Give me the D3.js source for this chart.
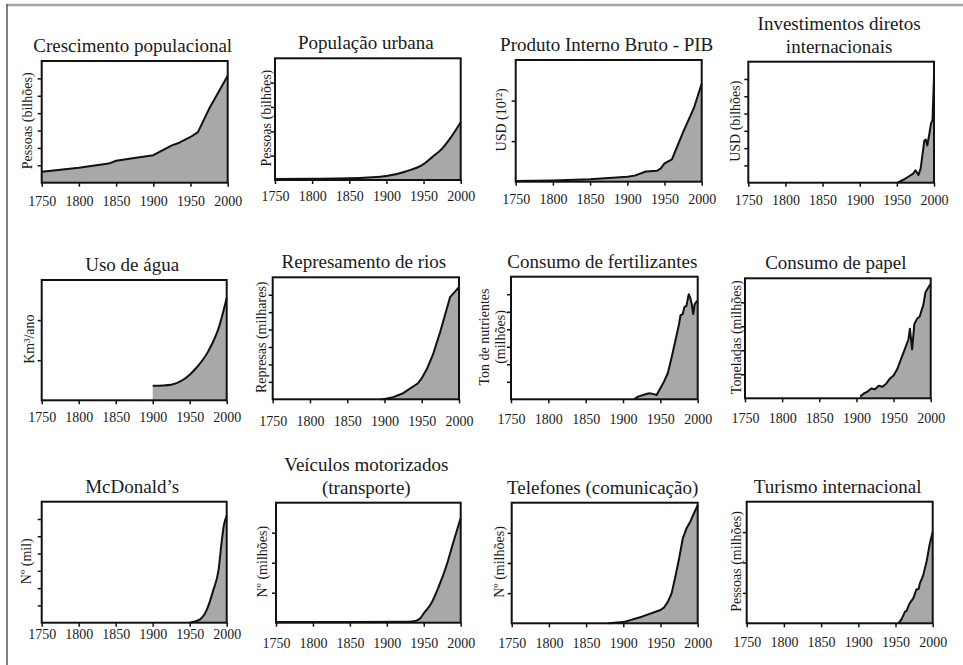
<!DOCTYPE html>
<html>
<head>
<meta charset="utf-8">
<script src="https://cdn.jsdelivr.net/npm/d3@7"></script>
<style>
  body { margin: 0; background: #fff; }
  svg text { font-family: "Liberation Serif", "Times New Roman", serif; fill: #1a1a1a; }
</style>
</head>
<body>
<div id="chart"></div>
<script>
var svgWidth = 963;
var svgHeight = 665;

// shared x axis
var xTicks = [1750, 1800, 1850, 1900, 1950, 2000];

// series (years / values in axis units)
var popYears = [1750, 1800, 1840, 1850, 1870, 1900, 1925, 1935, 1950, 1960, 1975, 2000];
var popValues = [0.63, 0.86, 1.1, 1.26, 1.39, 1.58, 2.15, 2.3, 2.63, 2.91, 4.25, 6.15];

var urbanYears = [1750, 1800, 1850, 1875, 1900, 1925, 1950, 1962, 1975, 1987, 2000];
var urbanValues = [0.04, 0.05, 0.07, 0.1, 0.16, 0.34, 0.65, 0.95, 1.29, 1.76, 2.37];

var gdpYears = [1750, 1800, 1850, 1900, 1910, 1925, 1940, 1945, 1950, 1960, 1975, 1990, 2000];
var gdpValues = [0.02, 0.03, 0.06, 0.12, 0.15, 0.25, 0.27, 0.33, 0.45, 0.55, 1.22, 1.84, 2.42];

var fdiYears = [1951, 1960, 1972, 1975, 1979, 1982, 1987, 1989, 1991, 1994, 1996, 1998, 2000];
var fdiValues = [0, 0.2, 0.53, 0.72, 0.44, 0.82, 2.44, 2.5, 2.15, 2.9, 3.43, 3.62, 6.15];

var waterYears = [1900, 1925, 1940, 1950, 1960, 1975, 1990, 2000];
var waterValues = [0.36, 0.39, 0.5, 0.64, 0.83, 1.22, 1.85, 2.55];

var damYears = [1895, 1900, 1910, 1925, 1945, 1950, 1957, 1965, 1975, 1988, 2000];
var damValues = [0, 0.02, 0.1, 0.35, 0.92, 1.21, 1.75, 2.56, 3.9, 5.86, 6.44];

var fertYears = [1915, 1920, 1930, 1935, 1940, 1945, 1950, 1955, 1960, 1965, 1970, 1975, 1977, 1980, 1982, 1985, 1988, 1990, 1992, 1994, 1996, 1998, 2000];
var fertValues = [0, 0.15, 0.29, 0.35, 0.31, 0.25, 0.63, 1.02, 1.5, 2.37, 3.33, 4.3, 4.8, 4.87, 5.25, 5.35, 6.0, 5.8, 5.44, 4.87, 5.44, 5.55, 5.63];

var paperYears = [1905, 1910, 1915, 1920, 1925, 1930, 1935, 1940, 1945, 1950, 1955, 1960, 1965, 1970, 1972, 1975, 1978, 1982, 1985, 1990, 1993, 1997, 2000];
var paperValues = [0.07, 0.2, 0.28, 0.41, 0.38, 0.52, 0.48, 0.61, 0.82, 0.95, 1.22, 1.63, 2.04, 2.45, 2.9, 2.04, 3.1, 3.33, 3.4, 3.88, 4.42, 4.63, 4.76];

var mcdYears = [1950, 1955, 1964, 1973, 1982, 1989, 1993, 1996, 2000];
var mcdValues = [0, 0.05, 0.19, 0.74, 1.9, 3.06, 4.6, 5.6, 6.2];

var vehYears = [1750, 1850, 1930, 1940, 1945, 1950, 1960, 1970, 1980, 1990, 2000];
var vehValues = [0.02, 0.02, 0.03, 0.07, 0.14, 0.31, 0.64, 1.19, 1.85, 2.68, 3.49];

var telYears = [1880, 1900, 1925, 1950, 1955, 1960, 1965, 1970, 1975, 1980, 1985, 1990, 1995, 2000];
var telValues = [0, 0.04, 0.22, 0.44, 0.53, 0.72, 1.0, 1.55, 2.15, 2.82, 3.15, 3.37, 3.65, 3.92];

var tourYears = [1954, 1958, 1963, 1965, 1968, 1970, 1974, 1976, 1978, 1981, 1983, 1987, 1992, 1996, 2000];
var tourValues = [0, 0.13, 0.39, 0.41, 0.61, 0.69, 0.83, 0.97, 1.11, 1.13, 1.33, 1.56, 2.06, 2.61, 3.0];

var titles = [
  ["Crescimento populacional"], ["População urbana"], ["Produto Interno Bruto - PIB"], ["Investimentos diretos", "internacionais"],
  ["Uso de água"], ["Represamento de rios"], ["Consumo de fertilizantes"], ["Consumo de papel"],
  ["McDonald’s"], ["Veículos motorizados", "(transporte)"], ["Telefones (comunicação)"], ["Turismo internacional"]
];
var yLabels = [
  ["Pessoas (bilhões)"], ["Pessoas (bilhões)"], ["USD (10¹²)"], ["USD (bilhões)"],
  ["Km³/ano"], ["Represas (milhares)"], ["Ton de nutrientes", "(milhões)"], ["Toneladas (milhões)"],
  ["Nº (mil)"], ["Nº (milhões)"], ["Nº (milhões)"], ["Pessoas (milhões)"]
];
var yMaxes = [7, 5, 3, 7, 3, 7, 7, 5, 7, 4, 4, 4];

var series = [
  [popYears, popValues], [urbanYears, urbanValues], [gdpYears, gdpValues], [fdiYears, fdiValues],
  [waterYears, waterValues], [damYears, damValues], [fertYears, fertValues], [paperYears, paperValues],
  [mcdYears, mcdValues], [vehYears, vehValues], [telYears, telValues], [tourYears, tourValues]
];

// layout of each panel: plot box [x0, x1, y0, y1], y label offset, x tick padding, smooth or not
var layout = [
  { box: [41.7, 227.7, 61, 182.7], labelDx: -10, pad: 9.5, smooth: false },
  { box: [275, 460.7, 58.3, 180], labelDx: -4, pad: 7.5, smooth: true },
  { box: [515.7, 701.7, 60, 181.7], labelDx: -10, pad: 8, smooth: false },
  { box: [748.3, 934, 61.7, 182.7], labelDx: -8, pad: 8, smooth: false },
  { box: [41.7, 226.7, 280, 400.3], labelDx: -8, pad: 8, smooth: true },
  { box: [272.7, 459, 277.3, 399.3], labelDx: -7, pad: 13, smooth: false },
  { box: [511, 697.7, 276.7, 399.3], labelDx: -6, pad: 11, smooth: false },
  { box: [745, 930.7, 278.3, 398.3], labelDx: -4, pad: 10.5, smooth: false },
  { box: [41.7, 226.7, 501.7, 622.7], labelDx: -11, pad: 2.5, smooth: true },
  { box: [276, 460.7, 502.7, 622.7], labelDx: -9, pad: 11, smooth: true },
  { box: [511.7, 697.7, 502.7, 623.3], labelDx: -8, pad: 10.5, smooth: false },
  { box: [746.7, 932.7, 501.7, 623.3], labelDx: -6, pad: 9.5, smooth: false }
];

var svg = d3.select("#chart")
  .append("svg")
  .attr("width", svgWidth)
  .attr("height", svgHeight);

// page frame
svg.append("line")
  .attr("x1", 7).attr("x2", svgWidth).attr("y1", 5).attr("y2", 5)
  .attr("stroke", "#a5a5a5").attr("stroke-width", 2.5);
svg.append("line")
  .attr("x1", 7).attr("x2", 7).attr("y1", 4).attr("y2", svgHeight)
  .attr("stroke", "#555").attr("stroke-width", 1.5);

series.forEach(function(s, i) {
  var L = layout[i];
  var x0 = L.box[0], x1 = L.box[1], y0 = L.box[2], y1 = L.box[3];
  var data = s[0].map(function(yr, j) { return { year: yr, value: s[1][j] }; });

  var xScale = d3.scaleLinear().domain([1750, 2000]).range([x0, x1]);
  var yScale = d3.scaleLinear().domain([0, yMaxes[i]]).range([y1, y0]);
  var curve = L.smooth ? d3.curveMonotoneX : d3.curveLinear;

  var g = svg.append("g");

  g.append("path")
    .datum(data)
    .attr("fill", "#a8a8a8")
    .attr("d", d3.area().curve(curve)
      .x(d => xScale(d.year))
      .y0(yScale(0))
      .y1(d => yScale(d.value)));

  g.append("path")
    .datum(data)
    .attr("fill", "none")
    .attr("stroke", "#111")
    .attr("stroke-width", 2)
    .attr("stroke-linejoin", "round")
    .attr("d", d3.line().curve(curve)
      .x(d => xScale(d.year))
      .y(d => yScale(d.value)));

  g.append("rect")
    .attr("x", x0).attr("y", y0)
    .attr("width", x1 - x0).attr("height", y1 - y0)
    .attr("fill", "none")
    .attr("stroke", "#111")
    .attr("stroke-width", 2);

  var xAxis = g.append("g")
    .attr("transform", `translate(0, ${y1})`)
    .call(d3.axisBottom(xScale).tickValues(xTicks).tickSize(4).tickPadding(L.pad).tickFormat(d3.format("d")));
  xAxis.select(".domain").remove();
  xAxis.selectAll("line").attr("stroke", "#111").attr("stroke-width", 1.5);
  xAxis.selectAll("text").attr("font-size", 14).style("font-family", "Liberation Serif, serif").attr("fill", "#1a1a1a");

  var yAxis = g.append("g")
    .attr("transform", `translate(${x0}, 0)`)
    .call(d3.axisLeft(yScale).tickValues(d3.range(1, yMaxes[i])).tickSize(4).tickFormat(""));
  yAxis.select(".domain").remove();
  yAxis.selectAll("line").attr("stroke", "#111").attr("stroke-width", 1.5);

  // title (one or two lines)
  var t = titles[i];
  var cx = (x0 + x1) / 2 - 2;
  t.forEach(function(line, k) {
    g.append("text")
      .attr("x", cx)
      .attr("y", y0 - 9 - (t.length - 1 - k) * 23)
      .attr("text-anchor", "middle")
      .attr("font-size", 19)
      .text(line);
  });

  // y label, rotated
  var lab = yLabels[i];
  var cy = (y0 + y1) / 2 - 1;
  lab.forEach(function(line, k) {
    var bx = x0 + L.labelDx - (lab.length - 1 - k) * 16;
    g.append("text")
      .attr("transform", `translate(${bx}, ${cy}) rotate(-90)`)
      .attr("text-anchor", "middle")
      .attr("font-size", 14)
      .text(line);
  });
});
</script>
</body>
</html>
